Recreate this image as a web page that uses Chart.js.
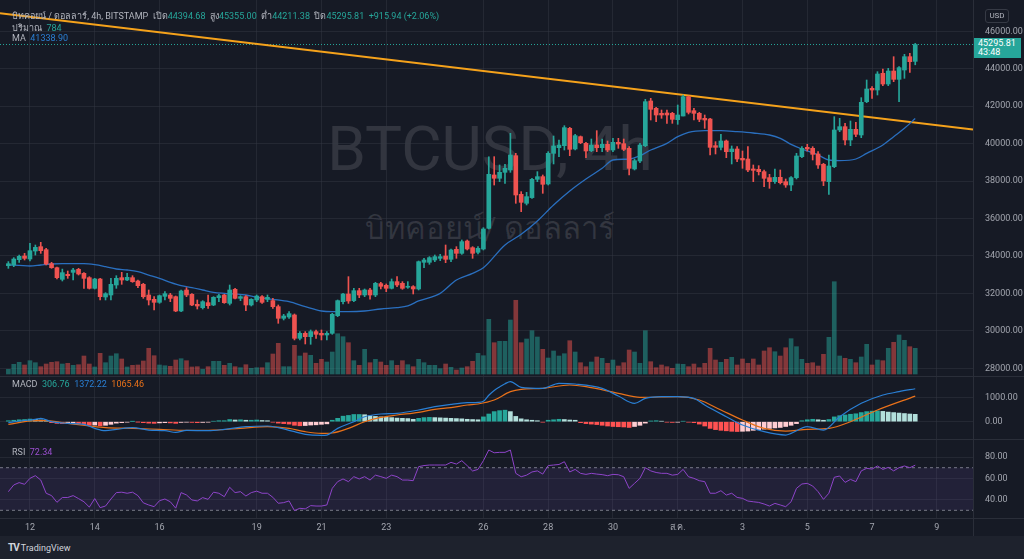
<!DOCTYPE html>
<html><head><meta charset="utf-8">
<script src="https://cdn.jsdelivr.net/npm/chart.js@4.4.1/dist/chart.umd.min.js"></script>
<style>
html,body{margin:0;padding:0;}
body{background:#161a25;width:1024px;height:559px;overflow:hidden;position:relative;font-family:Roboto,"Noto Sans",sans-serif;color:#b2b5be;}
canvas{position:absolute;left:0;z-index:1;}
.wm{position:absolute;z-index:0;color:rgba(255,255,255,0.12);white-space:nowrap;text-align:center;}
.hl{position:absolute;z-index:3;left:12px;font-size:9px;white-space:nowrap;color:#b2b5be;}
.g{color:#26a69a}.b{color:#2a7fd4}.o{color:#e8711a}.p{color:#9c4fd1}
.sep{position:absolute;background:#2a2e39;z-index:2;}
</style></head><body>
<div class="wm" style="left:240px;width:500px;top:112px;font-size:62px;font-family:Roboto,sans-serif;">BTCUSD, 4h</div>
<div class="wm" style="left:240px;width:500px;top:203px;font-size:31px;">บิทคอยน์/ ดอลลาร์</div>

<canvas id="cMain" width="1024" height="376" style="top:0"></canvas>
<canvas id="cMacd" width="1024" height="62" style="top:377px"></canvas>
<canvas id="cRsi" width="1024" height="96" style="top:440px"></canvas>

<div class="sep" style="left:0;top:376px;width:1024px;height:1px"></div>
<div class="sep" style="left:0;top:439px;width:1024px;height:1px"></div>
<div class="sep" style="left:0;top:518px;width:1024px;height:1px"></div>
<div class="sep" style="left:973px;top:0;width:1px;height:536px"></div>
<div style="position:absolute;left:0;top:536px;width:1024px;height:23px;background:#1e222d;z-index:2"></div>
<div style="position:absolute;left:8px;top:542px;z-index:3;font-size:9px;color:#d1d4dc;white-space:nowrap"><b style="font-size:10px;letter-spacing:-1px">TV</b> TradingView</div>

<div class="hl" style="top:9px">บิทคอยน์ / ดอลลาร์, 4h, BITSTAMP &nbsp;เปิด<span class="g">44394.68</span> &nbsp;สูง<span class="g">45355.00</span> &nbsp;ต่ำ<span class="g">44211.38</span> &nbsp;ปิด<span class="g">45295.81</span> &nbsp;<span class="g">+915.94 (+2.06%)</span></div>
<div class="hl" style="top:21px">ปริมาณ &nbsp;<span class="g">784</span></div>
<div class="hl" style="top:33px">MA &nbsp;<span class="b">41338.90</span></div>
<div class="hl" style="top:379px">MACD &nbsp;<span class="g">306.76</span> &nbsp;<span class="b">1372.22</span> &nbsp;<span class="o">1065.46</span></div>
<div class="hl" style="top:447px">RSI &nbsp;<span class="p">72.34</span></div>

<div style="position:absolute;left:985px;top:9px;width:22px;height:12px;border:1px solid #363a45;border-radius:3px;font-size:8px;line-height:12px;text-align:center;color:#b2b5be;z-index:3">USD</div>
<div style="position:absolute;left:974px;top:38px;width:47px;height:20px;background:#26a69a;z-index:3;color:#fff;font-size:9px;line-height:9px;padding-left:4px;box-sizing:border-box;padding-top:1px">45295.81<br>43:48</div>

<script>
// ---------------- DATA ----------------
const dayTickIdx = [4,16,28,46,58,70,88,100,112,124,136,148,160,172];
const dayLabels  = ['12','14','16','19','21','23','26','28','30','ส.ค.','3','5','7','9'];
const priceTicks = [28000,30000,32000,34000,36000,38000,40000,42000,44000,46000];
const macdTicks  = [0,1000];
const rsiTicks   = [40,60,80];
const lastPrice  = 45295.81;
const trendIdx   = [-1.55, 178.7];
const trendVal   = [46967, 40760];

const opens = [33482,33520,33803,34000,33838,34265,34497,34337,33589,33376,32753,33020,33126,33287,33073,32842,32272,32770,31810,31916,
32450,32842,32717,32842,32664,32486,31916,31685,31525,31845,31916,31827,31062,32183,31952,31418,31240,31507,31382,31774,
31916,31471,32218,31738,31828,31383,31650,31828,31686,31615,31294,30671,30742,30849,29603,29870,29692,29960,29870,29780,
29870,30813,31560,31970,31615,32148,31917,32184,31917,32522,32433,32273,32629,32540,32330,32362,32238,33662,33662,33786,
33875,33999,33822,34355,34142,34800,34444,34195,34373,35477,38326,38150,38468,38593,39358,37294,36813,37116,38095,38237,
37846,39483,39785,39892,40818,39714,40373,40017,39625,39927,39785,39963,39660,40071,40000,39750,38647,39073,39892,42278,
41886,41619,41637,41619,41281,41476,42509,41761,41619,41352,41316,39892,39803,40142,39572,39714,39216,39180,38647,38629,
38504,38184,37970,38201,37970,37792,38184,39305,39803,39750,39448,38896,37970,38771,40729,40907,40195,40765,40462,42242,
42954,42865,43755,43185,43879,43434,43933,44645,44394.68];
const highs = [33700,33910,34050,34140,34675,34586,34730,34408,33660,33411,33300,33198,33340,33340,33109,32895,32806,32806,32040,32806,
32948,33126,33073,32948,32717,32539,32183,31827,31916,32094,32005,31863,32183,32308,31987,31650,31613,31916,31827,31952,
31952,32450,32272,31880,31880,31720,31917,31880,31917,31740,31383,30884,31027,30902,29960,29960,30048,30048,30048,29960,
30937,31650,32005,32896,32273,32273,32238,32273,32594,32594,32505,32772,32896,32629,32629,32416,33733,33875,33964,34053,
34088,34587,34373,34498,34854,34854,34498,34498,35513,39300,39305,38860,38896,40551,39483,37436,37400,38148,38504,38326,
39572,40409,40195,40960,40871,40498,40409,40071,40248,40694,40248,40142,40284,40284,40248,39839,39180,40017,42367,42420,
41940,41797,41797,41672,42064,42598,42545,41886,41672,41530,41352,40106,40498,40195,39875,39839,39608,39839,38860,38824,
38593,38362,38647,38593,38112,38237,39483,39839,39963,39839,39572,38949,39394,41441,41352,41085,41210,41138,42456,43399,
43043,43844,43986,44022,44645,44111,44770,44823,45355];
const lows = [33340,33430,33660,33785,33730,34050,34140,33518,33340,32770,32664,32806,32717,32984,32270,32236,32236,31650,31650,31650,
32272,32486,32680,32592,32308,31738,31382,31115,31471,31650,31560,31026,31026,31827,31346,31168,31168,31204,31346,31560,
31471,31382,31702,31613,31080,31330,31560,31470,31560,31205,30404,30582,30671,29515,29515,29300,29283,29603,29515,29515,
29817,30760,31437,31470,31560,31775,31828,31700,31828,32238,32095,32238,32362,32220,32273,31970,32184,33377,33555,33697,
33751,33644,33697,33875,34088,34320,33875,34107,34320,35441,37790,37970,37881,38468,36813,36368,36724,37080,37970,37347,
37792,38914,39305,39660,39358,39660,40000,39251,39572,39572,39572,39572,39572,39750,39625,38326,38593,38985,39839,41263,
41174,41352,41085,41085,41032,41476,41583,41263,41174,40818,39394,39448,39661,39251,38914,39038,38682,38504,37970,38326,
37703,37614,37881,37846,37667,37490,38112,39252,39608,39127,38682,37757,37294,38718,40640,39928,39892,40373,40320,42189,
42420,42598,43096,43096,43310,42242,43488,43808,44211.38];
const closes = [33589,33838,33981,33874,34283,34461,34283,33571,33376,32842,33109,32950,33250,33037,32806,32272,32770,31827,31987,32486,
32806,32717,32860,32628,32414,31827,31650,31525,31880,31987,31738,31062,32130,31916,31382,31328,31560,31346,31791,31880,
31507,32183,31738,31827,31383,31686,31860,31525,31793,31294,30671,30795,30920,29603,29870,29692,29960,29817,29780,29870,
30884,31615,31970,31597,32148,31917,32184,31917,32540,32380,32273,32629,32451,32273,32380,32238,33697,33786,33910,33964,
33964,33822,34320,34142,34765,34373,34142,34409,35441,38361,38150,38468,38682,39394,37258,36866,37169,38095,38237,37828,
39483,39875,39927,40854,39696,40427,40053,39608,39927,39785,39963,39660,40071,39980,39696,38682,39090,39927,42242,41833,
41530,41530,41530,41299,41530,42509,41672,41619,41299,41263,39803,39803,40142,39572,39714,39180,39127,38593,38575,38504,
38148,37970,38201,37917,37792,38184,39341,39750,39714,39430,38860,38006,38807,40729,40907,40195,40765,40498,42207,42918,
42865,43719,43185,43879,43434,44058,44645,44378,45295.81];
const volumes = [143,296,357,275,406,345,223,305,357,375,305,326,265,284,549,305,214,631,345,549,
619,458,214,265,275,397,784,558,275,253,235,427,467,406,214,223,143,223,387,387,
265,326,223,192,284,174,192,192,345,610,936,223,223,875,549,641,570,326,448,366,
671,1229,1138,955,406,265,753,345,448,366,265,406,265,406,284,223,448,345,265,265,
162,305,204,122,183,223,387,631,558,1668,955,997,997,1647,2248,955,1068,1321,1129,753,
488,702,549,619,1016,671,345,223,366,519,479,326,427,244,345,732,671,326,1321,375,
192,275,223,174,305,296,223,305,192,326,784,427,357,448,509,275,458,326,458,275,
702,802,680,549,802,1077,833,448,326,345,244,601,1119,2815,549,479,448,345,519,906,
275,427,406,784,967,1190,1028,833,784];
const maIdx = [0,2,4,6,8,10,12,14,16,18,20,22,24,26,28,30,32,34,36,38,40,42,44,46,49,52,55,58,60,63,66,69,72,74,76,80,83,86,88,92,95,98,101,104,107,110,112,115,117,119,122,124,126,129,132,135,138,141,143,145,147,148,150,152,154,157,159,162,164,166,168];
const maVal = [33518,33500,33465,33518,33571,33589,33589,33589,33536,33429,33304,33251,33162,32984,32806,32592,32414,32308,32183,32058,32005,31970,31916,31793,31686,31561,31294,31062,31027,31027,31062,31169,31240,31330,31597,32006,32718,33074,33370,34588,35158,35870,36724,37472,38112,38682,39127,39180,39358,39661,40017,40373,40605,40693,40693,40640,40569,40462,40284,39964,39714,39608,39394,39127,39092,39180,39483,39928,40373,40818,41338.9];
const macdIdx = [0,2,5,6,8,11,14,16,18,20,23,26,29,31,33,37,40,44,48,50,53,55,58,59,61,64,66,69,72,76,79,82,85,87,88,89,90,91,92,93,95,99,102,105,110,113,116,118,121,124,127,129,133,136,140,144,145,148,151,154,158,162,165,168];
const macdVal = [-42,28,97,139,0,-70,-111,-278,-375,-320,-250,-348,-375,-445,-361,-375,-320,-208,-180,-250,-417,-528,-570,-556,-278,0,208,320,348,486,625,723,792,806,850,1100,1300,1450,1580,1668,1432,1390,1599,1571,1390,1070,765,973,1043,1043,973,695,209,-139,-417,-556,-487,-209,-348,209,765,1112,1251,1372.22];
const sigIdx = [0,5,7,11,15,18,23,28,33,38,43,48,52,55,58,60,63,66,69,72,76,79,82,85,87,90,93,95,99,104,107,113,117,124,128,132,136,140,144,148,152,156,161,168];
const sigVal = [-111,42,42,-70,-180,-250,-278,-320,-361,-348,-278,-208,-278,-417,-487,-470,-278,0,180,278,389,514,584,695,737,903,1251,1348,1390,1529,1460,1182,1015,1043,904,487,70,-278,-389,-320,-278,0,487,1065.46];
const hist = [40,60,80,90,110,100,70,30,-40,-70,-80,-70,-60,-80,-110,-150,-140,-170,-150,-110,
-60,-40,-20,10,-10,-40,-60,-70,-50,-40,-50,-70,-30,-20,-30,-40,-30,-20,20,40,
40,90,70,80,60,60,70,50,40,-20,-60,-80,-100,-150,-170,-160,-140,-130,-110,-90,
60,140,230,260,300,300,290,250,220,200,180,170,150,140,130,100,140,170,180,170,
160,150,140,130,120,100,90,80,200,320,420,460,480,420,220,120,80,60,40,-20,
60,80,100,90,70,60,-40,-80,-100,-120,-150,-180,-200,-210,-220,-240,-200,-150,-60,30,
40,20,-20,-30,-20,20,-20,-40,-100,-180,-280,-330,-360,-380,-400,-410,-400,-390,-360,-330,
-310,-280,-260,-240,-200,-150,-80,40,80,100,80,60,90,200,250,280,310,330,380,420,
440,450,430,400,380,360,340,320,306.76];
const rsi = [47.5,53.8,56,54.4,60,62.5,58.4,46,43.8,37.5,42,42,43.8,41,38,33,41,32.5,34,40.6,
46.6,47,46,47,43.8,37,35,33.4,39,40.6,38,32,46.6,44.4,39.7,38.8,41.9,40.3,47,46,
42.8,51.6,46.6,47.5,43.4,46.6,48,46,46,42.2,36.6,37.2,38.8,29.7,31.9,31.3,34.4,34,34,35,
50.6,56.9,59.4,56.9,61.6,59.4,61.6,58.4,63,61.6,60,63,61.6,58.4,58.4,57.8,71,72,72.5,72.5,
72.5,72.5,75,73.4,76.6,71.9,66.9,68.4,76.6,86.6,84,84.4,84.4,86.6,64.7,61.5,63,66,67,64,
72,72.5,73,75.6,66,68.4,64.7,63.7,64.7,64,63.5,62.5,63.7,63.4,61.5,50.6,55.3,60,70,67,
65.5,64.7,64.7,63,63.7,68.4,61.5,60,57.8,56.9,46,46,48.4,44.3,46,42.1,41.2,38.7,38,37.4,
35.9,34,36.5,35,33.4,38,50.6,54.7,55.3,52.8,47.5,40.3,46,61,62.2,56.2,59,56.9,67,69.4,
68.7,71.6,68.4,70.3,67,70,71.6,70,72.34];

// ---------------- STYLE / HELPERS ----------------
const FONT = 'Roboto, "Noto Sans", sans-serif';
const X_MIN = -1.55, X_MAX = 178.7;
const GREEN = '#26a69a', RED = '#ef5350';
const GRID = 'rgba(54,58,69,0.45)';
const AXIS_TXT = '#a3a6af';
const n = closes.length;
const isUp = i => closes[i] >= opens[i];
const candleCol = opens.map((o,i)=> isUp(i) ? GREEN : RED);
const volCol = opens.map((o,i)=> isUp(i) ? 'rgba(38,166,154,0.5)' : 'rgba(239,83,80,0.5)');
const histCol = hist.map((v,i)=>{
  const p = i>0 ? hist[i-1] : v;
  if (v >= 0) return v >= p ? '#26a69a' : '#b2dfdb';
  return v < p ? '#ff5252' : '#ffcdd2';
});
const pts = (xs, ys) => xs.map((x,k)=>({x:x, y:ys[k]}));
const idx = closes.map((c,i)=>i);

function xScale(showTicks){
  return {
    type:'linear', min:X_MIN, max:X_MAX, offset:false,
    afterBuildTicks: s => { s.ticks = dayTickIdx.map(v=>({value:v})); },
    ticks:{display:showTicks, color:AXIS_TXT, font:{size:9, family:FONT}, padding:4,
      maxRotation:0, autoSkip:false, callback:(v,k)=>dayLabels[k]},
    grid:{color:GRID, drawTicks:false, offset:false},
    border:{display:false},
    afterFit: s => { s.height = showTicks ? 18 : 0; s.paddingLeft = 0; s.paddingRight = 0; }
  };
}
function yScale(min, max, tickVals){
  return {
    position:'right', min:min, max:max,
    afterBuildTicks: s => { s.ticks = tickVals.map(v=>({value:v})); },
    ticks:{color:AXIS_TXT, font:{size:9, family:FONT}, padding:12, callback:v=>Number(v).toFixed(2)},
    grid:{color:GRID, drawTicks:false},
    border:{display:false},
    afterFit: s => { s.width = 51; s.paddingTop = 0; s.paddingBottom = 0; }
  };
}
const common = {
  responsive:false, animation:false, devicePixelRatio:1,
  layout:{padding:0},
  plugins:{legend:{display:false}, tooltip:{enabled:false}},
  events:[]
};

// ---------------- MAIN PANE ----------------
new Chart(document.getElementById('cMain'), {
  type:'bar',
  data:{datasets:[
    {type:'bar', label:'vol', yAxisID:'yv', data:idx.map(i=>({x:i, y:volumes[i]})),
      backgroundColor:volCol, barThickness:4, grouped:false, order:6},
    {type:'line', label:'last', yAxisID:'y', data:pts(trendIdx,[lastPrice,lastPrice]),
      borderColor:GREEN, borderWidth:1, borderDash:[1,2], pointRadius:0, order:5},
    {type:'line', label:'trend', yAxisID:'y', data:pts(trendIdx, trendVal),
      borderColor:'#f5a21b', borderWidth:2, pointRadius:0, order:4},
    {type:'line', label:'MA', yAxisID:'y', data:pts(maIdx, maVal),
      borderColor:'#2a6fbf', borderWidth:1.3, pointRadius:0, cubicInterpolationMode:'monotone', order:3},
    {type:'bar', label:'wick', yAxisID:'y', data:idx.map(i=>({x:i, y:[lows[i], highs[i]]})),
      backgroundColor:candleCol, barThickness:1, grouped:false, order:2},
    {type:'bar', label:'body', yAxisID:'y', data:idx.map(i=>({x:i, y:[opens[i], closes[i]]})),
      backgroundColor:candleCol, barThickness:4, minBarLength:1, grouped:false, order:1}
  ]},
  options:Object.assign({}, common, {
    scales:{
      x: xScale(false),
      y: yScale(27590, 47672, priceTicks),
      yv: {display:false, min:-61, max:11407}
    }
  })
});

// ---------------- MACD PANE ----------------
new Chart(document.getElementById('cMacd'), {
  type:'bar',
  data:{datasets:[
    {type:'bar', data:idx.map(i=>({x:i, y:hist[i]})), backgroundColor:histCol,
      barThickness:4, grouped:false, order:3},
    {type:'line', data:pts(sigIdx, sigVal), borderColor:'#e8711a', borderWidth:1.2,
      pointRadius:0, cubicInterpolationMode:'monotone', order:2},
    {type:'line', data:pts(macdIdx, macdVal), borderColor:'#2a7fd4', borderWidth:1.2,
      pointRadius:0, cubicInterpolationMode:'monotone', order:1}
  ]},
  options:Object.assign({}, common, {
    scales:{ x: xScale(false), y: yScale(-721, 1862, macdTicks) }
  })
});

// ---------------- RSI PANE ----------------
new Chart(document.getElementById('cRsi'), {
  type:'line',
  data:{datasets:[
    {data:pts(trendIdx,[70,70]), borderColor:'#787b86', borderWidth:1, borderDash:[3,3], pointRadius:0, order:3},
    {data:pts(trendIdx,[30,30]), borderColor:'#787b86', borderWidth:1, borderDash:[3,3], pointRadius:0,
      fill:'-1', backgroundColor:'rgba(126,87,194,0.12)', order:2},
    {data:idx.map(i=>({x:i, y:rsi[i]})), borderColor:'#8e44c9', borderWidth:1, pointRadius:0, order:1}
  ]},
  options:Object.assign({}, common, {
    scales:{ x: xScale(true), y: yScale(22.77, 96.0, rsiTicks) }
  })
});
</script>
</body></html>
